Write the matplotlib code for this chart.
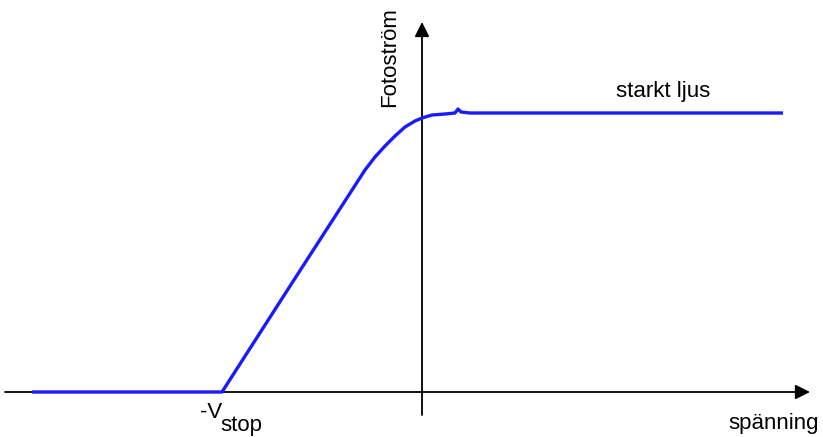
import matplotlib.pyplot as plt

plt.rcParams["font.family"] = ["Liberation Sans", "DejaVu Sans"]

# photocurrent curve (spänning, fotoström) in arbitrary units
spanning = [-3.90, -2.00, -1.30, -0.57, -0.47, -0.37, -0.27, -0.17, -0.07, 0.00,
            0.10, 0.23, 0.33, 0.36, 0.39, 0.48, 1.00, 2.00, 3.61]
fotostrom = [0.00, 0.00, 1.09, 2.22, 2.35, 2.46, 2.56, 2.65, 2.71, 2.74,
             2.77, 2.78, 2.79, 2.83, 2.80, 2.79, 2.79, 2.79, 2.79]

x_label = "spänning"
y_label = "Fotoström"
curve_label = "starkt ljus"
vstop_label = "-V"
vstop_sub = "stop"


def main():
    fig = plt.figure(figsize=(8.23, 4.37), dpi=100)
    ax = fig.add_axes([0, 0, 1, 1])
    ax.set_xlim(-4.22, 4.01)
    ax.set_ylim(-0.45, 3.92)
    ax.axis("off")

    # axes with arrow heads
    ax.annotate("", xy=(3.88, 0), xytext=(-4.17, 0),
                arrowprops=dict(arrowstyle="-|>", color="black", lw=1.3,
                                mutation_scale=22, shrinkA=0, shrinkB=0))
    ax.annotate("", xy=(0, 3.70), xytext=(0, -0.23),
                arrowprops=dict(arrowstyle="-|>", color="black", lw=1.3,
                                mutation_scale=22, shrinkA=0, shrinkB=0))

    ax.plot(spanning, fotostrom, color="#1a1aff", lw=2.4, solid_joinstyle="round",
            solid_capstyle="butt", zorder=3)

    ax.text(-0.32, 3.35, y_label, rotation=90, fontsize=16,
            ha="center", va="center")
    ax.text(2.41, 3.00, curve_label, fontsize=16, ha="center", va="center")
    ax.text(3.52, -0.31, x_label, fontsize=16, ha="center", va="center")
    ax.text(-2.00, -0.21, vstop_label, fontsize=16, ha="right", va="center")
    ax.text(-2.02, -0.33, vstop_sub, fontsize=16, ha="left", va="center")

    fig.savefig("out.png", dpi=100)
    plt.close(fig)


if __name__ == "__main__":
    main()
